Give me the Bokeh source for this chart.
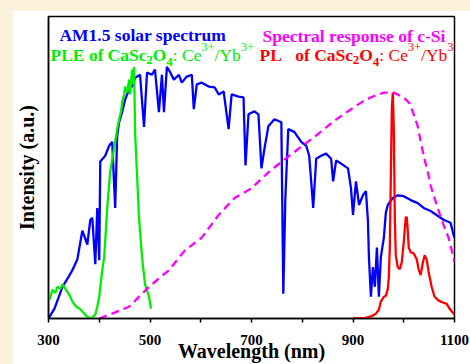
from bokeh.plotting import figure
from bokeh.models import Range1d, FixedTicker, Label
from bokeh.layouts import column
from bokeh.embed import file_html
from bokeh.resources import INLINE

# ---------------- data ----------------
am15_wl = [300.0, 311.8, 327.5, 339.2, 347.1, 356.9, 366.7, 376.5, 382.4, 386.3, 392.2, 396.1, 400.0,
           402.0, 411.8, 419.6, 425.5, 431.4, 435.3, 439.2, 445.1, 451.0, 460.8, 464.7, 470.6, 480.4,
           488.2, 494.1, 503.9, 509.8, 517.6, 523.5, 527.5, 533.3, 539.2, 547.1, 556.9, 562.7, 572.5,
           582.4, 586.3, 592.2, 602.0, 615.7, 627.5, 635.3, 645.1, 654.9, 660.8, 674.5, 684.3, 688.2,
           694.1, 705.9, 713.7, 719.6, 725.5, 733.3, 745.1, 758.8, 762.7, 766.7, 772.5, 784.3, 798.0,
           807.8, 813.7, 817.6, 821.6, 827.5, 837.3, 847.1, 856.9, 860.8, 866.7, 876.5, 890.2, 896.1,
           900.0, 905.9, 911.8, 919.6, 925.5, 929.4, 931.4, 935.3, 939.2, 943.1, 947.1, 951.0, 954.9,
           960.8, 964.7, 968.6, 978.4, 988.2, 1000.0, 1013.7, 1027.5, 1039.2, 1052.9, 1066.7, 1078.4,
           1092.2, 1098.0, 1100.0]
am15_int = [0.000, 0.033, 0.105, 0.137, 0.160, 0.196, 0.291, 0.245, 0.327, 0.333, 0.180, 0.366, 0.193,
            0.520, 0.539, 0.572, 0.585, 0.366, 0.605, 0.650, 0.683, 0.725, 0.768, 0.768, 0.797, 0.807,
            0.634, 0.814, 0.807, 0.824, 0.683, 0.807, 0.683, 0.833, 0.817, 0.791, 0.807, 0.781, 0.801,
            0.807, 0.693, 0.775, 0.781, 0.768, 0.765, 0.742, 0.752, 0.627, 0.742, 0.735, 0.732, 0.507,
            0.676, 0.686, 0.676, 0.497, 0.562, 0.637, 0.660, 0.650, 0.082, 0.399, 0.627, 0.618, 0.585,
            0.572, 0.539, 0.454, 0.366, 0.529, 0.539, 0.546, 0.529, 0.454, 0.523, 0.513, 0.497, 0.431,
            0.343, 0.454, 0.376, 0.408, 0.422, 0.324, 0.203, 0.072, 0.170, 0.105, 0.235, 0.072, 0.203,
            0.268, 0.350, 0.376, 0.399, 0.408, 0.405, 0.392, 0.382, 0.366, 0.356, 0.340, 0.327,
            0.317, 0.278, 0.268]

ple_wl = [302.0, 307.8, 313.7, 317.6, 323.5, 327.5, 333.3, 337.3, 343.1, 347.1, 354.9, 360.8, 366.7,
          372.5, 378.4, 382.4, 388.2, 392.2, 396.1, 400.0, 405.9, 409.8, 415.7, 421.6, 427.5, 431.4,
          435.3, 439.2, 443.1, 445.1, 449.0, 451.0, 454.9, 458.8, 460.8, 464.7, 466.7, 468.6, 470.6,
          474.5, 478.4, 484.3, 490.2, 498.0, 502.0]
ple_int = [0.062, 0.095, 0.085, 0.105, 0.098, 0.114, 0.098, 0.088, 0.072, 0.056, 0.039, 0.033, 0.023,
           0.013, 0.003, 0.000, 0.007, 0.013, 0.039, 0.072, 0.160, 0.203, 0.366, 0.487, 0.546, 0.585,
           0.627, 0.660, 0.686, 0.716, 0.742, 0.768, 0.748, 0.791, 0.742, 0.824, 0.775, 0.833, 0.618,
           0.474, 0.333, 0.203, 0.114, 0.072, 0.033]

sr_wl = [400.0, 425.5, 458.8, 498.0, 537.3, 568.6, 602.0, 635.3, 666.7, 700.0, 733.3, 764.7, 798.0,
         831.4, 862.7, 896.1, 919.6, 939.2, 960.8, 980.4, 1000.0, 1011.8, 1019.6, 1027.5, 1033.3,
         1039.2, 1047.1, 1052.9, 1066.7, 1078.4, 1088.2, 1094.1, 1100.0]
sr_int = [0.000, 0.016, 0.039, 0.105, 0.160, 0.225, 0.268, 0.343, 0.399, 0.431, 0.484, 0.526, 0.569,
          0.611, 0.654, 0.693, 0.719, 0.735, 0.748, 0.748, 0.732, 0.712, 0.676, 0.637, 0.588,
          0.539, 0.487, 0.441, 0.366, 0.310, 0.268, 0.229, 0.186]

pl_wl = [900.0, 919.6, 935.3, 945.1, 951.0, 954.9, 960.8, 964.7, 968.6, 970.6, 972.5, 974.5, 976.5,
         978.4, 980.4, 982.4, 984.3, 988.2, 992.2, 996.1, 1000.0, 1003.9, 1005.9, 1007.8, 1009.8,
         1013.7, 1019.6, 1025.5, 1029.4, 1033.3, 1037.3, 1041.2, 1045.1, 1049.0, 1054.9, 1060.8,
         1068.6, 1078.4, 1084.3, 1090.2, 1096.1, 1100.0]
pl_int = [0.000, 0.000, 0.007, 0.016, 0.029, 0.056, 0.072, 0.075, 0.098, 0.137, 0.235, 0.464, 0.693,
          0.748, 0.627, 0.333, 0.209, 0.170, 0.163, 0.186, 0.252, 0.333, 0.337, 0.294, 0.235,
          0.219, 0.216, 0.196, 0.163, 0.144, 0.183, 0.209, 0.196, 0.154, 0.105, 0.072,
          0.059, 0.052, 0.049, 0.033, 0.020, 0.013]

x_ticks = [300, 400, 500, 600, 700, 800, 900, 1000, 1100]
x_tick_labels = {300: "300", 400: "", 500: "500", 600: "", 700: "700", 800: "",
                 900: "900", 1000: "", 1100: "1100"}

BLUE = "#0000FF"
GREEN = "#00EE00"
MAGENTA = "#FF00FF"
RED = "#FF0000"
FONT = "Liberation Serif"

# ---------------- figure ----------------
FL, FR, FT, FB = 34, 16, 6, 42      # borders (px) around the frame
W, H = 458, 354
p = figure(width=W, height=H, x_range=Range1d(300, 1100), y_range=Range1d(0, 1),
           output_backend="svg", toolbar_location=None,
           min_border_left=FL, min_border_right=FR, min_border_top=FT, min_border_bottom=FB,
           background_fill_color="white", border_fill_color="white",
           outline_line_color="black", outline_line_width=1.5)
p.margin = (10, 0, 0, 12)
p.grid.visible = False

xa = p.xaxis[0]
xa.ticker = FixedTicker(ticks=x_ticks, minor_ticks=[])
xa.major_label_overrides = x_tick_labels
xa.major_tick_in = 0
xa.major_tick_out = 4
xa.major_tick_line_width = 1.5
xa.axis_line_width = 1.5
xa.major_label_standoff = 12
xa.major_label_text_font = FONT
xa.major_label_text_font_style = "bold"
xa.major_label_text_font_size = "15px"
xa.major_label_text_color = "black"
xa.axis_label = "Wavelength (nm)"
xa.axis_label_text_font = FONT
xa.axis_label_text_font_style = "bold"
xa.axis_label_text_font_size = "20px"
xa.axis_label_standoff = -8
xa.axis_label_text_color = "black"

ya = p.yaxis[0]
ya.ticker = FixedTicker(ticks=[], minor_ticks=[])
ya.major_tick_line_color = None
ya.minor_tick_line_color = None
ya.major_tick_out = 0
ya.major_tick_in = 0
ya.axis_line_width = 1.5
ya.axis_label = "Intensity (a.u.)"
ya.axis_label_text_font = FONT
ya.axis_label_text_font_style = "bold"
ya.axis_label_text_font_size = "20px"
ya.axis_label_standoff = 11
ya.axis_label_text_color = "black"

p.line(am15_wl, am15_int, line_color=BLUE, line_width=2.3)
p.line(ple_wl, ple_int, line_color=GREEN, line_width=2.3)
p.line(sr_wl, sr_int, line_color=MAGENTA, line_width=2.3, line_dash="8 5")
p.line(pl_wl, pl_int, line_color=RED, line_width=2.3)

# ---------------- legend-like texts ----------------
FRAME_L, FRAME_R, FRAME_T, FRAME_B = 46, 454, 16, 322   # frame in page px


def to_data(sx, sy):
    x = 300 + (sx - FRAME_L) * 800.0 / (FRAME_R - FRAME_L)
    y = (FRAME_B - sy) / float(FRAME_B - FRAME_T)
    return x, y


BOLD_W = {"P": .611, "L": .667, "E": .667, " ": .25, "o": .5, "f": .333, "C": .722, "a": .5,
          "S": .556, "c": .444, "O": .778, "2": .5, "4": .5, "3": .5, "+": .570}
REG_W = {":": .278, " ": .25, "C": .667, "e": .444, "3": .5, "+": .564, "/": .278, "Y": .722, "b": .5}


def text_width(t, bold, size):
    table = BOLD_W if bold else REG_W
    return sum(table.get(ch, .5) for ch in t) * size


def add_text(sx, sy, text, color, size=17.5, bold=True, align="left"):
    x, y = to_data(sx, sy)
    p.add_layout(Label(x=x, y=y, text=text, text_color=color, text_font=FONT,
                       text_font_size=f"{size}px",
                       text_font_style="bold" if bold else "normal",
                       text_baseline="alphabetic", text_align=align))


def add_formula(sx, color):
    # CaSc2O4: Ce3+/Yb3+ composed piece by piece (baseline 55)
    pieces = [("CaSc", 17.5, True, 55), ("2", 13, True, 60), ("O", 17.5, True, 55),
              ("4", 13, True, 62), (": Ce", 17.5, False, 55), ("3+", 12.5, False, 47),
              ("/Yb", 17.5, False, 55), ("3+", 12.5, False, 47)]
    for t, s, b, base in pieces:
        add_text(sx, base, t, color, s, b)
        sx += text_width(t, b, s)


add_text(57, 35, "AM1.5 solar spectrum", BLUE)
add_text(261, 36, "Spectral response of c-Si", MAGENTA)

add_text(48, 55, "PLE of ", GREEN)
add_formula(48 + text_width("PLE of ", True, 17.5), GREEN)

add_text(258, 55, "PL", RED)
add_text(294, 55, "of ", RED)
add_formula(294 + text_width("of ", True, 17.5), RED)

layout = column(p, width=470, height=364, styles={"background-color": "#FCF1DA"})

open("out.html", "w").write(file_html(layout, INLINE))
